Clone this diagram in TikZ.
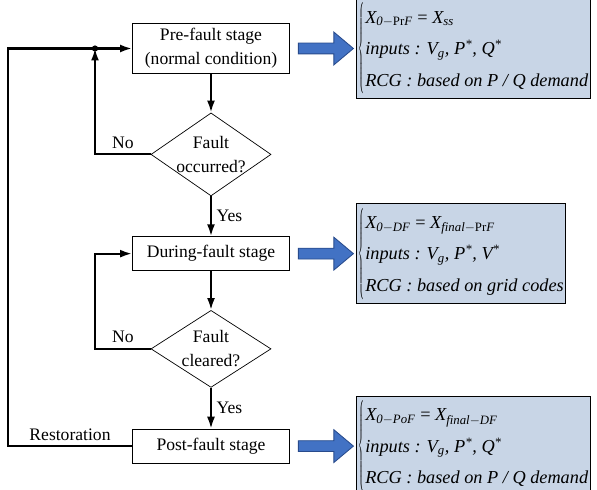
\documentclass[tikz,border=0pt]{standalone}
\usepackage{amsmath}
\usepackage{graphicx}
\usepackage{fontspec}
\setmainfont{Liberation Serif}
\usepackage{tikz}
\usetikzlibrary{shapes.geometric, shapes.arrows, arrows.meta, positioning}
\definecolor{condblue}{RGB}{200,213,230}
\definecolor{arrowblue}{RGB}{66,114,196}
\definecolor{arrowedge}{RGB}{40,75,140}
\newsavebox{\condbox}
\newcommand{\condset}[3]{\sbox{\condbox}{\itshape\renewcommand{\arraystretch}{1.4}\begin{tabular}{@{}l@{}}#1\\#2\\#3\end{tabular}}%
  \scalebox{0.4}[1]{$\left\{\vphantom{\usebox{\condbox}}\right.$}\usebox{\condbox}}

\begin{document}
\begin{tikzpicture}[
    x=0.025cm, y=-0.025cm,
    node distance=0.975cm and 0.2cm,
    stage/.style={draw, minimum width=3.93cm, minimum height=0.85cm,
                  font=\fontsize{12.5}{17}\selectfont, align=center, line width=0.5pt},
    dec/.style={draw, diamond, minimum width=3cm, minimum height=2.075cm,
                inner sep=0pt, line width=0.5pt},
    lbl/.style={font=\fontsize{12.5}{17}\selectfont},
    flow/.style={-{Latex[length=3mm,width=2mm]}, line width=1.5pt},
    fat/.style={single arrow, draw=arrowedge, fill=arrowblue, line width=0.6pt,
                minimum height=1.375cm, inner xsep=0pt, inner ysep=0.125cm,
                single arrow head extend=0.275cm, single arrow tip angle=80},
    cond/.style={draw, fill=condblue, inner xsep=1.5pt, inner ysep=2pt, line width=0.6pt,
                 font=\fontsize{13}{16}\selectfont},
]
\useasboundingbox (0,0) rectangle (597,490);

\node[stage, minimum height=1.225cm] (pre) at (211,48.5) {Pre-fault stage\\(normal condition)};
\node[dec, below=of pre, label={[lbl, align=center]center:Fault\\occurred?}] (occ) {};
\node[stage, below=1cm of occ] (dur) {During-fault stage};
\node[dec, below=of dur, minimum height=1.925cm, label={[lbl, align=center]center:Fault\\cleared?}] (clr) {};
\node[stage, below=1.025cm of clr] (post) {Post-fault stage};

% stage conditions
\node[fat, right=0.2cm of pre] (a1) {};
\node[fat, right=0.2cm of dur] (a2) {};
\node[fat, right=0.2cm of post] (a3) {};
\node[cond, right=0.05cm of a1] (c1) {\condset{X\textsubscript{0$-$\textup{Pr}F} \textup{=} X\textsubscript{ss}}{inputs : V\textsubscript{g}, P\textsuperscript{*}, Q\textsuperscript{*}}{RCG : based on P / Q demand}};
\node[cond, right=0.05cm of a2] (c2) {\condset{X\textsubscript{0$-$DF} \textup{=} X\textsubscript{final$-$\textup{Pr}F}}{inputs : V\textsubscript{g}, P\textsuperscript{*}, V\textsuperscript{*}}{RCG : based on grid codes}};
\node[cond, right=0.05cm of a3] (c3) {\condset{X\textsubscript{0$-$PoF} \textup{=} X\textsubscript{final$-$DF}}{inputs : V\textsubscript{g}, P\textsuperscript{*}, Q\textsuperscript{*}}{RCG : based on P / Q demand}};

% main flow
\draw[flow] (pre) -- (occ);
\draw[flow] (occ) -- node[right, lbl]{Yes} (dur);
\draw[flow] (dur) -- (clr);
\draw[flow] (clr) -- node[right, lbl]{Yes} (post);

% loops
\coordinate (jn) at (95,48.5);
\coordinate (rail) at (8,0);
\draw[flow] (occ.west) -| node[pos=0.25, above, lbl]{No} (jn);
\fill (jn) circle (2.2pt);
\draw[flow] (clr.west) -| node[pos=0.25, above, lbl]{No} (dur.west -| jn) -- (dur.west);
\draw[flow] (post.west) -- node[above, lbl]{Restoration} (post.west -| rail) |- (pre.west);
\end{tikzpicture}
\end{document}
